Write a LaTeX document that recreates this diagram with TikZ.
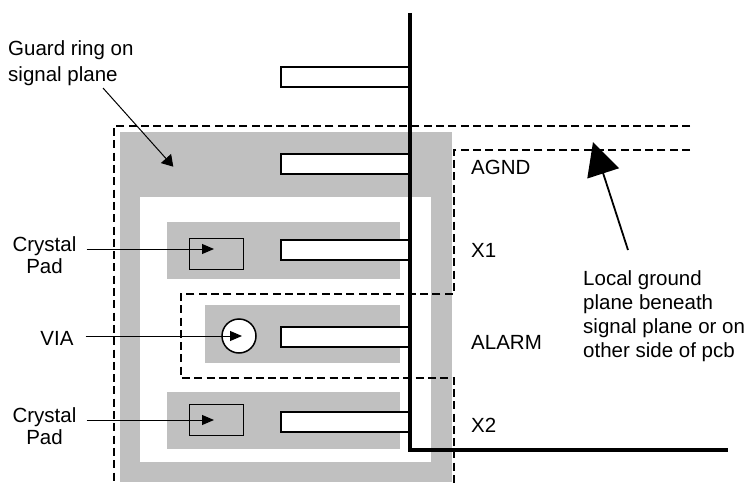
\documentclass[tikz,border=0pt]{standalone}
\usepackage{fontspec}
\setmainfont{Liberation Sans}
\usetikzlibrary{arrows.meta,calc}
\definecolor{ringgray}{RGB}{192,192,192}
\tikzset{
	lbl/.style={font=\fontsize{20.5}{24}\selectfont, inner sep=0pt},
	pin/.style={draw=black, line width=2pt, fill=white},
	plane/.style={dash pattern=on 8pt off 4.3pt, line width=1.4pt},
	ptr/.style={line width=1pt, -{Triangle[length=12pt,width=10pt]}},
}

\begin{document}
\begin{tikzpicture}[x=1pt,y=-1pt]
			%%%%% START %%%%%
			\useasboundingbox (0,0) rectangle (752,484);
			
			% guard ring and pads
			\fill[ringgray] (120,132) rectangle (452,482);
			\fill[white] (140,197) rectangle (431,462);
			\fill[ringgray] (167,222) rectangle (400,279);
			\fill[ringgray] (205,305) rectangle (400,363);
			\fill[ringgray] (167,392) rectangle (400,449);
			
			% local ground plane outline
			\draw[plane] (690,126) -- (114,126) -- (114,486);
			\draw[plane] (690,150) -- (454,150) -- (454,294) -- (181,294) -- (181,378) -- (454,378) -- (454,486);
			
			% pins
			\draw[pin] (281,67) rectangle (410,87);
			\draw[pin] (281,154) rectangle (410,174);
			\draw[pin] (281,240) rectangle (410,260);
			\draw[pin] (281,327) rectangle (410,347);
			\draw[pin] (281,412) rectangle (410,432);
			\draw[line width=3.3pt] (410,13) -- (410,450) -- (728,450);
			
			% crystal pads and via
			\draw[line width=1pt] (189,238) rectangle (243,269);
			\draw[line width=1pt] (189,404) rectangle (243,435);
			\node[circle, draw, fill=white, line width=1.5pt, minimum size=34pt, inner sep=0pt] (via) at (239,336) {};
			\coordinate (padtipA) at (214,249);
			\coordinate (padtipB) at (214,420);
			\coordinate (viatip) at (242,336);
			
			% labels
			\node[lbl, align=left, anchor=north west, font=\fontsize{20.5}{25.5}\selectfont] (guardtxt) at (8,40.5) {Guard ring on\\signal plane};
			\node[lbl, align=center, anchor=north, font=\fontsize{20.5}{22}\selectfont] (crystaltxtA) at (44.5,236.5) {Crystal\\Pad};
			\node[lbl, anchor=base] (viatxt) at (57,345) {VIA};
			\node[lbl, align=center, anchor=north, font=\fontsize{20.5}{22}\selectfont] (crystaltxtB) at (44.5,407.5) {Crystal\\Pad};
			\node[lbl, align=left, anchor=north west] (localtxt) at (583,270.5) {Local ground\\plane beneath\\signal plane or on\\other side of pcb};
			\node[lbl, anchor=base west] (agndtxt) at (471,174) {AGND};
			\node[lbl, anchor=base west] (xonetxt) at (471,257) {X1};
			\node[lbl, anchor=base west] (alarmtxt) at (471,349) {ALARM};
			\node[lbl, anchor=base west] (xtwotxt) at (471,432) {X2};
			
			% pointers
			\coordinate (guardtail) at (103,88);
			\coordinate (guardtip) at (173.3,166.7);
			\coordinate (localtail) at (628,250);
			\coordinate (localtip) at (593,142);
			\draw[line width=1pt, -{Triangle[length=11pt,width=13.5pt]}] (guardtail) -- (guardtip);
			\draw[ptr] ($(crystaltxtA.east |- padtipA)+(10,0)$) -- (padtipA);
			\draw[ptr] ($(viatxt.east |- viatip)+(12,0)$) -- (viatip);
			\draw[ptr] ($(crystaltxtB.east |- padtipB)+(10,0)$) -- (padtipB);
			\draw[line width=1.8pt, -{Triangle[length=33pt,width=33pt]}] (localtail) -- (localtip);
			
			%%%%% END %%%%%
		\end{tikzpicture}
\end{document}
